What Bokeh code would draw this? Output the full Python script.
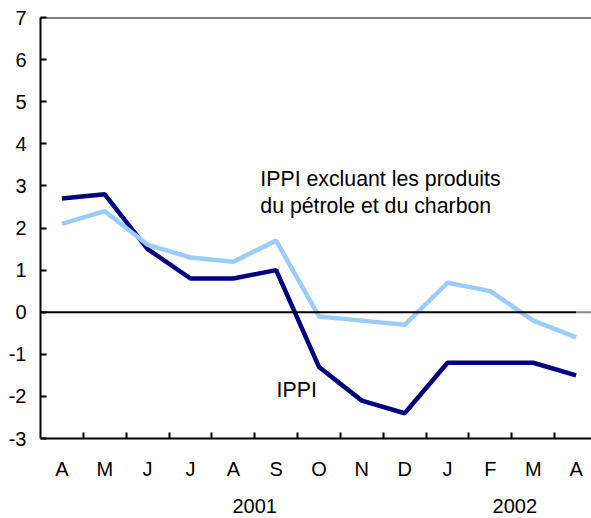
from bokeh.plotting import figure
from bokeh.models import Range1d, FixedTicker, LinearAxis, Span
from bokeh.core.properties import value
from bokeh.embed import file_html
from bokeh.resources import INLINE

months = ["A", "M", "J", "J", "A", "S", "O", "N", "D", "J", "F", "M", "A"]
ippi = [2.7, 2.8, 1.5, 0.8, 0.8, 1.0, -1.3, -2.1, -2.4, -1.2, -1.2, -1.2, -1.5]
ippi_excl = [2.1, 2.4, 1.6, 1.3, 1.2, 1.7, -0.1, -0.2, -0.3, 0.7, 0.5, -0.2, -0.6]
years = ["2001", "2002"]
year_pos = [4.5, 10.57]
y_ticks = list(range(-3, 8))

FONT = "Liberation Sans"
xs = list(range(len(months)))

p = figure(frame_width=551, frame_height=421, output_backend="svg",
           toolbar_location=None, x_range=Range1d(-0.5, 12.36),
           y_range=Range1d(-3, 7), min_border_left=40, min_border_right=0,
           min_border_top=17, min_border_bottom=0, x_axis_location=None)
p.grid.visible = False
p.outline_line_color = None
p.background_fill_color = "white"

# y axis
p.yaxis.ticker = FixedTicker(ticks=y_ticks)
p.yaxis.major_label_overrides = {t: str(t) for t in y_ticks}
p.yaxis.major_tick_in = 6
p.yaxis.major_tick_out = 0
p.yaxis.minor_tick_line_color = None
p.yaxis.axis_line_width = 2
p.yaxis.major_tick_line_width = 2
p.yaxis.axis_line_color = "black"
p.yaxis.major_tick_line_color = "black"
p.yaxis.major_label_text_font = FONT
p.yaxis.major_label_text_font_size = "20px"
p.yaxis.major_label_text_color = "black"
p.yaxis.major_label_standoff = 14

# x axis with month labels and boundary ticks
xa = LinearAxis(ticker=FixedTicker(ticks=xs, minor_ticks=[i + 0.5 for i in xs[:-1]] + [12.5]))
xa.major_label_overrides = {i: m for i, m in enumerate(months)}
xa.major_tick_in = 0
xa.major_tick_out = 0
xa.minor_tick_in = 6
xa.minor_tick_out = 0
xa.minor_tick_line_width = 2
xa.minor_tick_line_color = "black"
xa.axis_line_width = 2
xa.axis_line_color = "black"
xa.major_label_text_font = FONT
xa.major_label_text_font_size = "20px"
xa.major_label_text_color = "black"
xa.major_label_standoff = 19
p.add_layout(xa, "below")

# year axis
ya = LinearAxis(ticker=FixedTicker(ticks=year_pos))
ya.major_label_overrides = {year_pos[i]: years[i] for i in range(len(years))}
ya.axis_line_color = None
ya.major_tick_line_color = None
ya.minor_tick_line_color = None
ya.major_label_text_font = FONT
ya.major_label_text_font_size = "20px"
ya.major_label_text_color = "black"
ya.major_label_standoff = 10
p.add_layout(ya, "below")

p.line(xs, ippi, line_color="#000080", line_width=4.5)
p.line(xs, ippi_excl, line_color="#99CCFF", line_width=4.5)

p.segment(x0=[-0.5], y0=[0], x1=[12.0], y1=[0], line_color="black", line_width=2)
p.segment(x0=[12.0], y0=[0], x1=[12.36], y1=[0], line_color="#888888", line_width=2)
p.add_layout(Span(location=7, dimension="width", line_color="black", line_width=2))

p.text(x=[4.63, 4.63], y=[3.17, 2.53],
       text=["IPPI excluant les produits", "du pétrole et du charbon"],
       text_font=value(FONT), text_font_size="21.3px", text_color="black",
       text_baseline="alphabetic", text_align="left")
p.text(x=[5.01], y=[-1.84], text=["IPPI"],
       text_font=value(FONT), text_font_size="21.3px", text_color="black",
       text_baseline="alphabetic", text_align="left")

open("out.html", "w").write(file_html(p, INLINE))
